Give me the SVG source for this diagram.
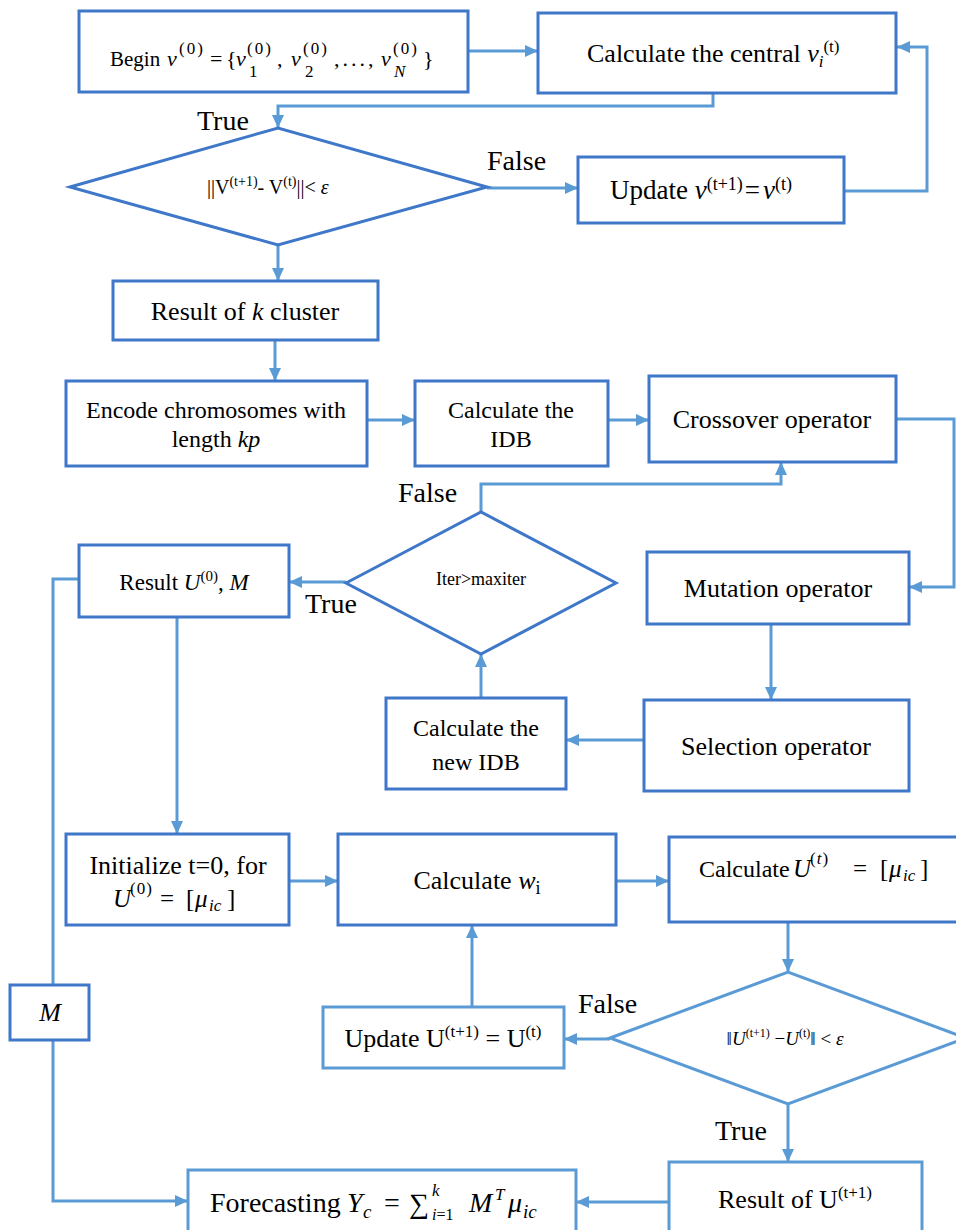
<svg xmlns="http://www.w3.org/2000/svg" width="956" height="1230" viewBox="0 0 956 1230" font-family="'Liberation Serif', 'Times New Roman', serif">
<style>
text, tspan{font-family:"Liberation Serif","Times New Roman",serif;fill:#000}
.b{fill:#fff;stroke:#3f77c9;stroke-width:3}
.bl{fill:#fff;stroke:#5b9bd5;stroke-width:3}
.c{fill:none;stroke:#5b9bd5;stroke-width:3}
.t26{font-size:26px}
.t24{font-size:24px}
.lab{font-size:28px}
.i{font-style:italic}
</style>
<defs>
<marker id="ah" markerUnits="userSpaceOnUse" markerWidth="14" markerHeight="12" refX="13" refY="6" orient="auto">
<path d="M0,0 L13,6 L0,12 z" fill="#5b9bd5"/>
</marker>
</defs>
<rect width="956" height="1230" fill="#fff"/>

<g id="connectors">
<path class="c" d="M468,51 H538" marker-end="url(#ah)"/>
<path class="c" d="M713,93 V106 H278 V128" marker-end="url(#ah)"/>
<path class="c" d="M487,188 H578" marker-end="url(#ah)"/>
<path class="c" d="M844,191 H927 V47 H897" marker-end="url(#ah)"/>
<path class="c" d="M278,245 V281" marker-end="url(#ah)"/>
<path class="c" d="M275,340 V381" marker-end="url(#ah)"/>
<path class="c" d="M367,420 H415" marker-end="url(#ah)"/>
<path class="c" d="M608,420 H649" marker-end="url(#ah)"/>
<path class="c" d="M896,419 H954 V587 H909" marker-end="url(#ah)"/>
<path class="c" d="M771,624 V700" marker-end="url(#ah)"/>
<path class="c" d="M644,740 H566" marker-end="url(#ah)"/>
<path class="c" d="M481,698 V654" marker-end="url(#ah)"/>
<path class="c" d="M481,512 V484 H781 V462" marker-end="url(#ah)"/>
<path class="c" d="M346,582 H289" marker-end="url(#ah)"/>
<path class="c" d="M79,579 H53 V985"/>
<path class="c" d="M53,1040 V1201 H188" marker-end="url(#ah)"/>
<path class="c" d="M177,617 V834" marker-end="url(#ah)"/>
<path class="c" d="M289,881 H338" marker-end="url(#ah)"/>
<path class="c" d="M616,881 H669" marker-end="url(#ah)"/>
<path class="c" d="M788,922 V972" marker-end="url(#ah)"/>
<path class="c" d="M610,1039 H564" marker-end="url(#ah)"/>
<path class="c" d="M472,1007 V925" marker-end="url(#ah)"/>
<path class="c" d="M788,1104 V1162" marker-end="url(#ah)"/>
<path class="c" d="M669,1202 H576" marker-end="url(#ah)"/>
</g>

<g id="labels">
<text class="lab" x="197" y="130">True</text>
<text class="lab" x="487" y="170">False</text>
<text class="lab" x="398" y="502">False</text>
<text class="lab" x="305" y="613">True</text>
<text class="lab" x="578" y="1013">False</text>
<text class="lab" x="715" y="1140">True</text>
</g>

<g id="begin">
<rect class="b" x="79" y="11" width="389" height="81"/>
<text x="110" y="66" font-size="21">Begin</text>
<text x="167" y="66" font-size="22" class="i">v</text>
<text x="179" y="54" font-size="17" letter-spacing="2">(0)</text>
<text x="210" y="66" font-size="22">=</text>
<text x="226" y="66" font-size="22">{</text>
<text x="236" y="66" font-size="22" class="i">v</text>
<text x="247" y="54" font-size="17" letter-spacing="2">(0)</text>
<text x="249" y="77" font-size="17">1</text>
<text x="277" y="66" font-size="22">,</text>
<text x="291" y="66" font-size="22" class="i">v</text>
<text x="303" y="54" font-size="17" letter-spacing="2">(0)</text>
<text x="305" y="77" font-size="17">2</text>
<text x="334" y="66" font-size="22" letter-spacing="3">,...,</text>
<text x="381" y="66" font-size="22" class="i">v</text>
<text x="393" y="54" font-size="17" letter-spacing="2">(0)</text>
<text x="394" y="77" font-size="17" class="i">N</text>
<text x="423" y="66" font-size="22">}</text>
</g>

<g id="calc-central">
<rect class="b" x="538" y="13" width="358" height="80"/>
<text class="t26" x="587" y="62">Calculate the central <tspan class="i">v</tspan><tspan class="i" font-size="17" dy="5">i</tspan><tspan font-size="17" dy="-15">(t)</tspan></text>
</g>

<g id="cond1">
<polygon class="b" points="70,187 278,128 487,187 278,245"/>
<text x="207" y="194" font-size="20">||V<tspan font-size="14" dy="-8">(t+1)</tspan><tspan dy="8">- V</tspan><tspan font-size="14" dy="-8">(t)</tspan><tspan dy="8">||&lt; </tspan><tspan class="i">ε</tspan></text>
</g>

<g id="update-v">
<rect class="b" x="578" y="157" width="266" height="66"/>
<text x="610" y="199" font-size="27">Update <tspan class="i">v</tspan><tspan font-size="18" dy="-9">(t+1)</tspan><tspan dy="9" dx="2">=</tspan><tspan class="i" dx="3">v</tspan><tspan font-size="18" dy="-9">(t)</tspan></text>
</g>

<g id="result-k">
<rect class="b" x="113" y="281" width="265" height="59"/>
<text class="t26" x="245" y="320" text-anchor="middle">Result of <tspan class="i">k</tspan> cluster</text>
</g>

<g id="encode">
<rect class="b" x="66" y="381" width="301" height="85"/>
<text class="t24" x="216" y="418" text-anchor="middle">Encode chromosomes with</text>
<text class="t24" x="216" y="447" text-anchor="middle">length <tspan class="i">kp</tspan></text>
</g>

<g id="calc-idb">
<rect class="b" x="415" y="381" width="193" height="85"/>
<text class="t24" x="511" y="418" text-anchor="middle">Calculate the</text>
<text class="t24" x="511" y="447" text-anchor="middle">IDB</text>
</g>

<g id="crossover">
<rect class="b" x="649" y="376" width="247" height="86"/>
<text class="t26" x="772" y="428" text-anchor="middle">Crossover operator</text>
</g>

<g id="mutation">
<rect class="b" x="647" y="552" width="262" height="72"/>
<text class="t26" x="778" y="597" text-anchor="middle">Mutation operator</text>
</g>

<g id="selection">
<rect class="b" x="644" y="700" width="265" height="91"/>
<text class="t26" x="776" y="755" text-anchor="middle">Selection operator</text>
</g>

<g id="calc-new-idb">
<rect class="b" x="386" y="698" width="180" height="91"/>
<text class="t24" x="476" y="736" text-anchor="middle">Calculate the</text>
<text class="t24" x="476" y="770" text-anchor="middle">new IDB</text>
</g>

<g id="cond2">
<polygon class="b" points="346,583 481,512 616,583 481,654"/>
<text x="481" y="585" font-size="18" text-anchor="middle">Iter&gt;maxiter</text>
</g>

<g id="result-u0">
<rect class="b" x="79" y="545" width="210" height="72"/>
<text x="184" y="590" font-size="23" text-anchor="middle">Result <tspan class="i">U</tspan><tspan font-size="15" dy="-9">(0)</tspan><tspan dy="9">, </tspan><tspan class="i">M</tspan></text>
</g>

<g id="m-box">
<rect class="b" x="10" y="985" width="79" height="55"/>
<text x="50" y="1021" font-size="26" text-anchor="middle" class="i">M</text>
</g>

<g id="initialize">
<rect class="b" x="66" y="834" width="223" height="91"/>
<text class="t26" x="178" y="874" text-anchor="middle">Initialize t=0, for</text>
<text x="113" y="907" font-size="25" class="i">U</text>
<text x="130" y="894" font-size="17" letter-spacing="1">(0)</text>
<text x="160" y="907" font-size="25">=</text>
<text x="186" y="907" font-size="25">[</text>
<text x="195" y="907" font-size="25" class="i">μ</text>
<text x="209" y="911" font-size="17" class="i">ic</text>
<text x="227" y="907" font-size="25">]</text>
</g>

<g id="calc-w">
<rect class="b" x="338" y="834" width="278" height="91"/>
<text class="t26" x="477" y="889" text-anchor="middle">Calculate <tspan class="i">w</tspan><tspan font-size="18" dy="5">i</tspan></text>
</g>

<g id="calc-ut">
<rect class="b" x="669" y="837" width="290" height="85"/>
<text x="699" y="877" font-size="24">Calculate</text>
<text x="793" y="877" font-size="25" class="i">U</text>
<text x="810" y="864" font-size="17" letter-spacing="1">(<tspan class="i">t</tspan>)</text>
<text x="853" y="877" font-size="25">=</text>
<text x="880" y="877" font-size="25">[</text>
<text x="889" y="877" font-size="25" class="i">μ</text>
<text x="903" y="881" font-size="17" class="i">ic</text>
<text x="920" y="877" font-size="25">]</text>
</g>

<g id="cond3">
<polygon class="bl" points="610,1038 788,972 966,1038 788,1104"/>
<text x="785" y="1045" font-size="19" text-anchor="middle">‖<tspan class="i">U</tspan><tspan font-size="12" dy="-8">(t+1)</tspan><tspan dy="8"> −</tspan><tspan class="i">U</tspan><tspan font-size="12" dy="-8">(t)</tspan><tspan dy="8">‖ &lt; </tspan><tspan class="i">ε</tspan></text>
</g>

<g id="update-u">
<rect class="bl" x="323" y="1007" width="241" height="61"/>
<text class="t26" x="443" y="1047" text-anchor="middle">Update U<tspan font-size="17" dy="-10">(t+1)</tspan><tspan dy="10"> = U</tspan><tspan font-size="17" dy="-10">(t)</tspan></text>
</g>

<g id="result-ut1">
<rect class="bl" x="669" y="1162" width="253" height="80"/>
<text class="t26" x="718" y="1208">Result of U<tspan font-size="17" dy="-10">(t+1)</tspan></text>
</g>

<g id="forecasting">
<rect class="bl" x="188" y="1170" width="388" height="72"/>
<text x="210" y="1212" font-size="28">Forecasting</text>
<text x="347" y="1212" font-size="28" class="i">Y</text>
<text x="363" y="1218" font-size="19" class="i">c</text>
<text x="384" y="1212" font-size="28">=</text>
<text x="409" y="1213" font-size="28">∑</text>
<text x="432" y="1196" font-size="17" class="i">k</text>
<text x="432" y="1220" font-size="16"><tspan class="i">i</tspan>=1</text>
<text x="469" y="1212" font-size="28" class="i">M</text>
<text x="495" y="1200" font-size="17" class="i">T</text>
<text x="508" y="1212" font-size="28" class="i">μ</text>
<text x="523" y="1218" font-size="19" class="i">ic</text>
</g>
</svg>
